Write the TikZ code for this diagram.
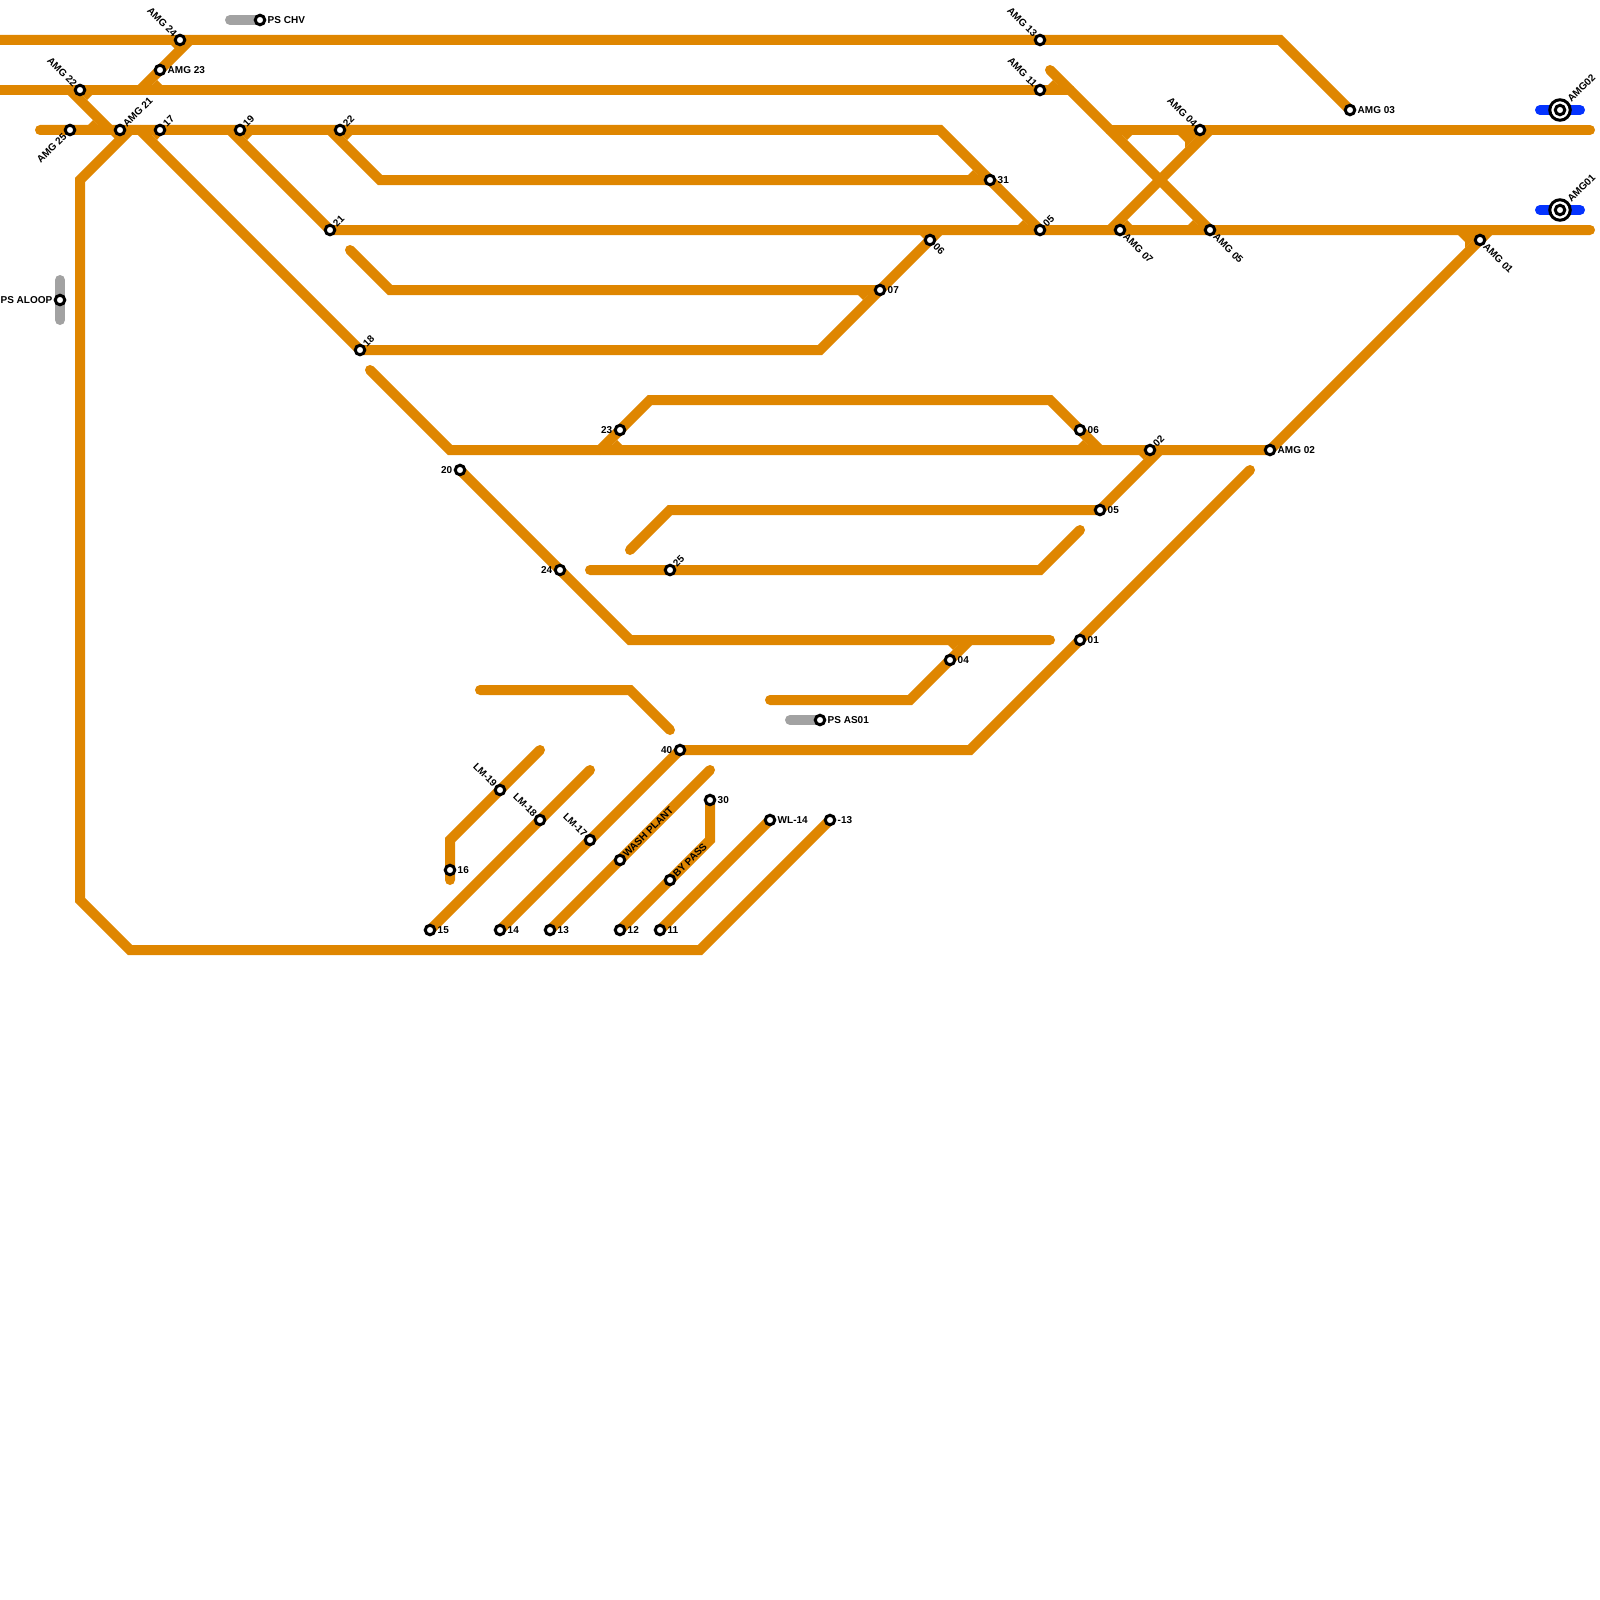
\documentclass[tikz,border=0pt]{standalone}
\usepackage{fontspec}
\setmainfont{Liberation Sans}
\usetikzlibrary{backgrounds}
\definecolor{rail}{HTML}{DF8600}
\definecolor{stub}{HTML}{A2A2A2}
\definecolor{link}{HTML}{0433FF}
\tikzset{
  x=1pt,y=-1pt,
  track/.style={draw=rail,line width=10pt,line cap=round,line join=miter},
  greytrack/.style={track,draw=stub},
  bluetrack/.style={track,draw=link},
  fillet/.style={fill=rail,draw=none},
  stn/.style={circle,draw=black,fill=white,line width=3pt,inner sep=0pt,minimum size=9.5pt},
  hub/.style={circle,draw=black,fill=white,line width=3pt,inner sep=0pt,minimum size=20.5pt},
  txt/.style={font=\bfseries\fontsize{10}{10}\selectfont,inner sep=0pt,text=black},
  tE/.style={txt,anchor=west,xshift=7.5pt},
  tW/.style={txt,anchor=east,xshift=-7.5pt},
  tNE/.style={txt,anchor=west,xshift=4.5pt,yshift=4.5pt,rotate=45},
  tSE/.style={txt,anchor=west,xshift=5pt,yshift=-5pt,rotate=-45},
  tSW/.style={txt,anchor=east,xshift=-5pt,yshift=-5pt,rotate=45},
  tNW/.style={txt,anchor=east,xshift=-4.5pt,yshift=4.5pt,rotate=-45},
  tHub/.style={txt,anchor=west,xshift=9pt,yshift=9.5pt,rotate=45},
}
\newcommand{\st}[5]{\node[stn] (#1) at (#2,#3) {}; \node[#4] (#1-t) at (#1) {#5};}
\begin{document}
\begin{tikzpicture}
\useasboundingbox (0,0) rectangle (1600,1600);
% stations
\st{a24}{180}{40}{tNW}{AMG 24}
\st{a13}{1040}{40}{tNW}{AMG 13}
\st{pchv}{260}{20}{tE}{PS CHV}
\st{a23}{160}{70}{tE}{AMG 23}
\st{a22}{80}{90}{tNW}{AMG 22}
\st{a11}{1040}{90}{tNW}{AMG 11}
\st{a03}{1350}{110}{tE}{AMG 03}
\st{a25}{70}{130}{tSW}{AMG 25}
\st{a21}{120}{130}{tNE}{AMG 21}
\st{s17}{160}{130}{tNE}{17}
\st{s19}{240}{130}{tNE}{19}
\st{s22}{340}{130}{tNE}{22}
\st{a04}{1200}{130}{tNW}{AMG 04}
\st{s31}{990}{180}{tE}{31}
\st{s21}{330}{230}{tNE}{21}
\st{s05a}{1040}{230}{tNE}{05}
\st{a07}{1120}{230}{tSE}{AMG 07}
\st{a05}{1210}{230}{tSE}{AMG 05}
\st{s06a}{930}{240}{tSE}{06}
\st{a01}{1480}{240}{tSE}{AMG 01}
\st{s07}{880}{290}{tE}{07}
\st{palo}{60}{300}{tW}{PS ALOOP}
\st{s18}{360}{350}{tNE}{18}
\st{s23}{620}{430}{tW}{23}
\st{s06b}{1080}{430}{tE}{06}
\st{s02}{1150}{450}{tNE}{02}
\st{a02}{1270}{450}{tE}{AMG 02}
\st{s20}{460}{470}{tW}{20}
\st{s05b}{1100}{510}{tE}{05}
\st{s24}{560}{570}{tW}{24}
\st{s25}{670}{570}{tNE}{25}
\st{s01}{1080}{640}{tE}{01}
\st{s04}{950}{660}{tE}{04}
\st{pas}{820}{720}{tE}{PS AS01}
\st{s40}{680}{750}{tW}{40}
\st{lm19}{500}{790}{tNW}{LM-19}
\st{s30}{710}{800}{tE}{30}
\st{lm18}{540}{820}{tNW}{LM-18}
\st{wl14}{770}{820}{tE}{WL-14}
\st{m13}{830}{820}{tE}{-13}
\st{lm17}{590}{840}{tNW}{LM-17}
\st{wash}{620}{860}{tNE}{WASH PLANT}
\st{s16}{450}{870}{tE}{16}
\st{bypass}{670}{880}{tNE}{BY PASS}
\st{s15}{430}{930}{tE}{15}
\st{s14}{500}{930}{tE}{14}
\st{s13}{550}{930}{tE}{13}
\st{s12}{620}{930}{tE}{12}
\st{s11}{660}{930}{tE}{11}
\node[hub] (h02) at (1560,110) {};
\node[stn] (h02i) at (h02) {};
\node[tHub] (h02-t) at (h02) {AMG02};
\node[hub] (h01) at (1560,210) {};
\node[stn] (h01i) at (h01) {};
\node[tHub] (h01-t) at (h01) {AMG01};
% free ends
\coordinate (e40) at (-10,40);
\coordinate (e90) at (-10,90);
\coordinate (e130) at (40,130);
\coordinate (r130) at (1590,130);
\coordinate (r230) at (1590,230);
\coordinate (f250) at (350,250);
\coordinate (f370) at (370,370);
\coordinate (f630) at (630,550);
\coordinate (f590) at (590,570);
\coordinate (f1080) at (1080,530);
\coordinate (f1050) at (1050,640);
\coordinate (f770) at (770,700);
\coordinate (f480) at (480,690);
\coordinate (f670) at (670,730);
\coordinate (f1250) at (1250,470);
\coordinate (f1050t) at (1050,70);
\coordinate (f540) at (540,750);
\coordinate (f590t) at (590,770);
\coordinate (f710) at (710,770);
\coordinate (f450) at (450,880);
\coordinate (j190) at (190,40);
\coordinate (j140) at (140,90);
\coordinate (j70) at (70,90);
\coordinate (j110) at (110,130);
\coordinate (j1070) at (1070,90);
\coordinate (j1110) at (1110,130);
\coordinate (j1210) at (1210,130);
\coordinate (j1110b) at (1110,230);
\coordinate (j130) at (130,130);
\coordinate (j140b) at (140,130);
\coordinate (j230) at (230,130);
\coordinate (j330) at (330,130);
\coordinate (j940) at (940,230);
\coordinate (j600) at (600,450);
\coordinate (j1100) at (1100,450);
\coordinate (j1160) at (1160,450);
\coordinate (j970) at (970,640);
\coordinate (j1490) at (1490,230);
\begin{scope}[on background layer]
\draw[greytrack] (230,20) -- (pchv.center);
\draw[greytrack] (60,280) -- (60,320);
\draw[greytrack] (790,720) -- (pas.center);
\draw[bluetrack] (1540,110) -- (1580,110);
\draw[bluetrack] (1540,210) -- (1580,210);
\draw[track] (e40) -- (1280,40) -- (a03.center);
\draw[track] (e90) -- (j1070);
\draw[track] (f1050t) -- (a05.center);
\draw[track] (j190) -- (j140);
\draw[track] (j70) -- (j110);
\draw[track] (e130) -- (940,130) -- (s05a.center);
\draw[track] (j1110) -- (r130);
\draw[track] (j1210) -- (j1110b);
\draw[track] (j130) -- (80,180) -- (80,900) -- (130,950) -- (700,950) -- (m13.center);
\draw[track] (j140b) -- (s18.center) -- (820,350) -- (j940);
\draw[track] (j230) -- (s21.center) -- (r230);
\draw[track] (j330) -- (380,180) -- (s31.center);
\draw[track] (f250) -- (390,290) -- (s07.center);
\draw[track] (f370) -- (450,450) -- (a02.center);
\draw[track] (a02.center) -- (j1490);
\draw[track] (j600) -- (650,400) -- (1050,400) -- (j1100);
\draw[track] (j1160) -- (s05b.center) -- (670,510) -- (f630);
\draw[track] (f590) -- (1040,570) -- (f1080);
\draw[track] (s20.center) -- (630,640) -- (f1050);
\draw[track] (f770) -- (910,700) -- (j970);
\draw[track] (f480) -- (630,690) -- (f670);
\draw[track] (s40.center) -- (970,750) -- (f1250);
\draw[track] (f540) -- (450,840) -- (f450);
\draw[track] (s15.center) -- (f590t);
\draw[track] (s14.center) -- (s40.center);
\draw[track] (s13.center) -- (f710);
\draw[track] (s12.center) -- (710,840) -- (s30.center);
\draw[track] (s11.center) -- (wl14.center);
% fillets
\fill[fillet] (171,45) -- (179,45) -- (175,49) -- cycle;
\fill[fillet] (152,85) -- (162,85) -- (157,80) -- cycle;
\fill[fillet] (82,95) -- (92,95) -- (87,100) -- cycle;
\fill[fillet] (88,125) -- (98,125) -- (93,120) -- cycle;
\fill[fillet] (111,135) -- (119,135) -- (115,139) -- cycle;
\fill[fillet] (152,135) -- (161,135) -- (157,140) -- cycle;
\fill[fillet] (242,135) -- (252,135) -- (247,140) -- cycle;
\fill[fillet] (342,135) -- (352,135) -- (347,140) -- cycle;
\fill[fillet] (968,175) -- (978,175) -- (973,170) -- cycle;
\fill[fillet] (1018,225) -- (1028,225) -- (1023,220) -- cycle;
\fill[fillet] (920,235) -- (928,235) -- (924,239) -- cycle;
\fill[fillet] (858,295) -- (868,295) -- (863,300) -- cycle;
\fill[fillet] (1048,85) -- (1058,85) -- (1053,80) -- cycle;
\fill[fillet] (1122,135) -- (1132,135) -- (1127,140) -- cycle;
\fill[fillet] (1178,135) -- (1185,142) -- (1185,148) -- (1198,135) -- cycle;
\fill[fillet] (1122,225) -- (1132,225) -- (1127,220) -- cycle;
\fill[fillet] (1188,225) -- (1198,225) -- (1193,220) -- cycle;
\fill[fillet] (1458,235) -- (1465,242) -- (1465,248) -- (1478,235) -- cycle;
\fill[fillet] (612,445) -- (622,445) -- (617,440) -- cycle;
\fill[fillet] (1078,445) -- (1088,445) -- (1083,440) -- cycle;
\fill[fillet] (1139,455) -- (1148,455) -- (1143.5,459.5) -- cycle;
\fill[fillet] (948,645) -- (958,645) -- (953,650) -- cycle;
\end{scope}
\end{tikzpicture}
\end{document}
